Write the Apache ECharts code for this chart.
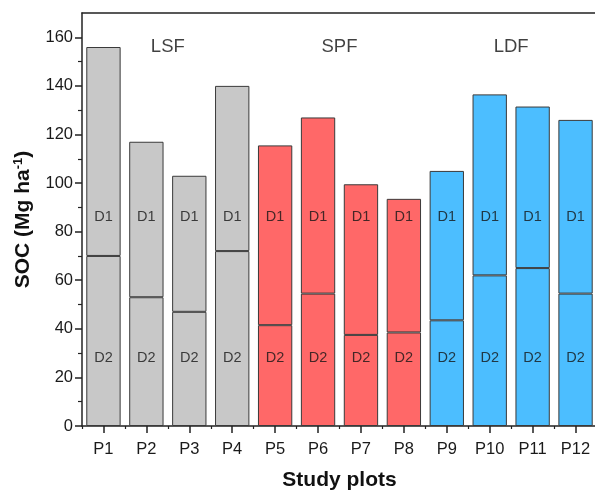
<!DOCTYPE html>
<html>
<head>
<meta charset="utf-8">
<script src="https://cdn.jsdelivr.net/npm/echarts@6/dist/echarts.min.js"></script>
<style>
  html, body { margin: 0; padding: 0; background: #fff; }
  #chart-container { width: 595px; height: 492px; }
</style>
</head>
<body>
<div id="chart-container"></div>
<script>
(function(window, echarts){
    'use strict';

    // study plots and their forest type
    var plots = ['P1', 'P2', 'P3', 'P4', 'P5', 'P6', 'P7', 'P8', 'P9', 'P10', 'P11', 'P12'];
    var plotGroup = ['LSF', 'LSF', 'LSF', 'LSF', 'SPF', 'SPF', 'SPF', 'SPF', 'LDF', 'LDF', 'LDF', 'LDF'];

    // SOC (Mg ha-1), D2 = lower depth, total = D1 + D2
    var socD2 = [70, 53, 47, 72, 41.5, 54.5, 37.5, 38.5, 43.5, 62, 65, 54.5];
    var socTotal = [156, 117, 103, 140, 115.5, 127, 99.5, 93.5, 105, 136.5, 131.5, 126];
    var socD1 = socTotal.map(function(t, i) { return +(t - socD2[i]).toFixed(1); });

    var yTicks = [0, 20, 40, 60, 80, 100, 120, 140, 160];
    var yMinorTicks = [10, 30, 50, 70, 90, 110, 130, 150];

    // group headings
    var groupNames = ['LSF', 'SPF', 'LDF'];
    var groupCenter = [1.5, 5.5, 9.5];

    var colors = { LSF: '#c8c8c8', SPF: '#ff6868', LDF: '#4cbeff' };
    var edge = '#3a3a3a';
    var axisColor = '#222';
    var font = 'Arial, "Liberation Sans", sans-serif';

    var chart = echarts.init(document.getElementById('chart-container'));

    function barData(values) {
        return values.map(function(v, i) {
            return { value: v, itemStyle: { color: colors[plotGroup[i]] } };
        });
    }

    var textSeries = function(name, yVal) {
        return {
            type: 'scatter', xAxisIndex: 1, symbolSize: 0, silent: true, z: 10,
            data: plots.map(function(p, i) { return [i, yVal]; }),
            label: { show: true, position: 'inside', formatter: name, color: '#151515', fontSize: 14.5, fontFamily: font }
        };
    };

    chart.setOption({
        animation: false,
        grid: { left: 82, right: -2, top: 13, bottom: 66, outerBoundsMode: 'none', containLabel: false },
        xAxis: [{
            type: 'category',
            data: plots,
            name: 'Study plots',
            nameLocation: 'middle',
            nameGap: 44,
            nameTextStyle: { fontSize: 21, fontWeight: 'bold', color: '#111', fontFamily: font },
            axisLine: { onZero: false, lineStyle: { color: axisColor, width: 1.5 } },
            axisTick: { show: true, alignWithLabel: true, length: 7, lineStyle: { color: axisColor, width: 1.5 } },
            axisLabel: { fontSize: 16.5, color: '#1a1a1a', margin: 15, fontFamily: font }
        }, {
            // only used for the small ticks between plots and for text placement
            type: 'value', position: 'bottom', min: -0.5, max: 11.5, interval: 1,
            axisLine: { show: false, onZero: false },
            axisLabel: { show: false },
            splitLine: { show: false },
            axisTick: { show: true, length: 3, lineStyle: { color: axisColor, width: 1.2 } }
        }, {
            // top frame line
            type: 'category', position: 'top', data: plots,
            axisLine: { show: true, onZero: false, lineStyle: { color: axisColor, width: 1.5 } },
            axisTick: { show: false },
            axisLabel: { show: false }
        }],
        yAxis: [{
            type: 'value',
            min: 0, max: 170, interval: 20,
            name: '{b|SOC (Mg ha}{s|-1}{b|)}',
            nameLocation: 'middle',
            nameGap: 48,
            nameRotate: 90,
            nameTextStyle: {
                rich: {
                    b: { fontSize: 21, fontWeight: 'bold', color: '#111', fontFamily: font },
                    s: { fontSize: 13, fontWeight: 'bold', color: '#111', fontFamily: font, verticalAlign: 'top', padding: [0, 0, 9, 0] }
                }
            },
            splitLine: { show: false },
            axisLine: { show: true, onZero: false, lineStyle: { color: axisColor, width: 1.5 } },
            axisTick: { show: true, length: 7, customValues: yTicks, lineStyle: { color: axisColor, width: 1.5 } },
            axisLabel: { fontSize: 16.5, color: '#1a1a1a', margin: 9, customValues: yTicks, fontFamily: font }
        }, {
            // minor ticks
            type: 'value', position: 'left', min: 0, max: 170,
            axisLine: { show: false, onZero: false },
            axisLabel: { show: false },
            splitLine: { show: false },
            axisTick: { show: true, length: 4, customValues: yMinorTicks, lineStyle: { color: axisColor, width: 1.2 } }
        }],
        series: [{
            name: 'D2', type: 'bar', stack: 'soc', barWidth: '80%',
            itemStyle: { borderColor: edge, borderWidth: 1 },
            data: barData(socD2)
        }, {
            name: 'D1', type: 'bar', stack: 'soc', barWidth: '80%',
            itemStyle: { borderColor: edge, borderWidth: 1 },
            data: barData(socD1)
        },
            textSeries('D1', 86),
            textSeries('D2', 28),
        {
            type: 'scatter', xAxisIndex: 1, symbolSize: 0, silent: true, z: 10,
            data: groupCenter.map(function(c, i) { return { value: [c, 156], name: groupNames[i] }; }),
            label: { show: true, position: 'inside', formatter: '{b}', color: '#111', fontSize: 18.5, fontFamily: font }
        }]
    });

})(window, window.echarts);
</script>
</body>
</html>
